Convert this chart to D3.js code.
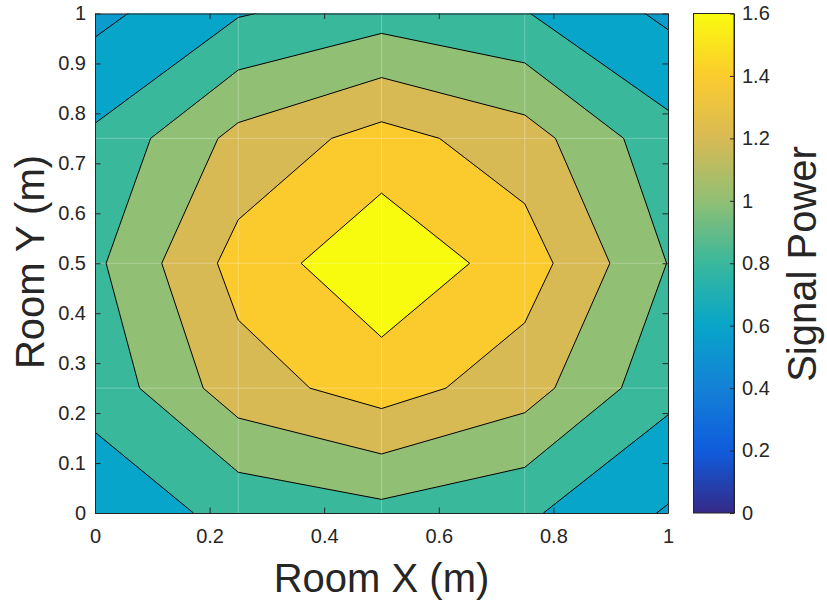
<!DOCTYPE html>
<html><head><meta charset="utf-8">
<script src="https://cdn.jsdelivr.net/npm/d3@7"></script>
<style>body{margin:0;background:#fff}svg{display:block}text{font-family:"Liberation Sans",Arial,Helvetica,sans-serif}</style>
</head><body><svg id="c" width="827" height="607"></svg>
<script>
// grid coordinates (m)
const xGrid = [0, 0.25, 0.5, 0.75, 1];
const yGrid = [0, 0.25, 0.5, 0.75, 1];
// signal power, one array per row of the grid (row y = 0 ... y = 1)
const powerY000 = [0.69, 0.85, 0.94, 0.833, 0.58];
const powerY025 = [0.86, 1.31, 1.49, 1.29, 0.86];
const powerY050 = [0.96, 1.475, 1.76, 1.50, 0.995];
const powerY075 = [0.835, 1.26, 1.475, 1.29, 0.87];
const powerY100 = [0.545, 0.785, 0.91, 0.81, 0.56];
// contour levels
const levels = [0.6, 0.8, 1.0, 1.2, 1.4, 1.6];
// tick labels
const xTicks = [0, 0.2, 0.4, 0.6, 0.8, 1];
const yTicks = [0, 0.1, 0.2, 0.3, 0.4, 0.5, 0.6, 0.7, 0.8, 0.9, 1];
const cbTicks = [0, 0.2, 0.4, 0.6, 0.8, 1, 1.2, 1.4, 1.6];
const cLimits = [0, 1.6];
// parula colormap anchors
const parulaStops = ["#352a87", "#0f5cdd", "#1481d6", "#07a5c9", "#39b89c", "#91bf74", "#d8ba55", "#fbcb2e", "#f9fb0e"];

const svg = d3.select("#c");
const W = 827, H = 607;
const axisColor = "#262626";
const L = 95, R = 668, T = 13.5, B = 513;
const x = d3.scaleLinear([0, 1], [L, R]);
const y = d3.scaleLinear([0, 1], [B, T]);
const parula = d3.scaleLinear(d3.range(parulaStops.length).map(i => i / (parulaStops.length - 1)), parulaStops).interpolate(d3.interpolateRgb).clamp(true);
const cnorm = d3.scaleLinear(cLimits, [0, 1]).clamp(true);
const color = v => parula(cnorm(v));

const rows = [powerY000, powerY025, powerY050, powerY075, powerY100];
const values = [].concat(...rows);
const nx = xGrid.length, ny = yGrid.length;
const ix = d3.scaleLinear([0, nx - 1], [xGrid[0], xGrid[nx - 1]]);
const iy = d3.scaleLinear([0, ny - 1], [yGrid[0], yGrid[ny - 1]]);
const proj = d3.geoTransform({point(px, py) { this.stream.point(x(ix(px - 0.5)), y(iy(py - 0.5))); }});
const path = d3.geoPath(proj);
const contours = d3.contours().size([nx, ny]).thresholds(levels)(values);

const defs = svg.append("defs");
defs.append("clipPath").attr("id", "plotclip").append("rect")
  .attr("x", L).attr("y", T).attr("width", R - L).attr("height", B - T);

const plot = svg.append("g").attr("clip-path", "url(#plotclip)");
// lowest band
plot.append("rect").attr("x", L).attr("y", T).attr("width", R - L).attr("height", B - T)
  .attr("fill", color(d3.min(values)));
plot.selectAll("path.fill").data(contours).join("path").attr("class", "fill")
  .attr("d", path).attr("fill", d => color(d.value)).attr("fill-rule", "evenodd").attr("stroke", "none");
// faint patch edges
const inner = xGrid.slice(1, -1);
plot.selectAll("line.gx").data(inner).join("line").attr("class", "gx")
  .attr("x1", d => x(d)).attr("x2", d => x(d)).attr("y1", T).attr("y2", B)
  .attr("stroke", "#fff").attr("stroke-opacity", 0.28).attr("stroke-width", 1);
plot.selectAll("line.gy").data(yGrid.slice(1, -1)).join("line").attr("class", "gy")
  .attr("y1", d => y(d)).attr("y2", d => y(d)).attr("x1", L).attr("x2", R)
  .attr("stroke", "#fff").attr("stroke-opacity", 0.28).attr("stroke-width", 1);
plot.selectAll("path.line").data(contours).join("path").attr("class", "line")
  .attr("d", path).attr("fill", "none").attr("stroke", "#000").attr("stroke-width", 1);

const fmt = d => String(d);
const tick = 5.5;
function styleAxis(g) {
  g.selectAll(".domain").attr("stroke", axisColor).attr("stroke-width", 1);
  g.selectAll(".tick line").attr("stroke", axisColor).attr("stroke-width", 1);
  g.selectAll(".tick text").attr("fill", axisColor).attr("font-size", 20).attr("font-family", "Liberation Sans, Arial, sans-serif");
}
svg.append("g").attr("transform", `translate(0,${B})`)
  .call(d3.axisBottom(x).tickValues(xTicks).tickFormat(fmt).tickSizeInner(-tick).tickSizeOuter(0).tickPadding(16)).call(styleAxis);
svg.append("g").attr("transform", `translate(0,${T})`)
  .call(d3.axisTop(x).tickValues(xTicks).tickFormat("").tickSizeInner(-tick).tickSizeOuter(0)).call(styleAxis);
svg.append("g").attr("transform", `translate(${L},0)`)
  .call(d3.axisLeft(y).tickValues(yTicks).tickFormat(fmt).tickSizeInner(-tick).tickSizeOuter(0).tickPadding(9)).call(styleAxis);
svg.append("g").attr("transform", `translate(${R},0)`)
  .call(d3.axisRight(y).tickValues(yTicks).tickFormat("").tickSizeInner(-tick).tickSizeOuter(0)).call(styleAxis);

// colorbar
const CL = 693.5, CR = 734;
const cy = d3.scaleLinear(cLimits, [B, T]);
const grad = defs.append("linearGradient").attr("id", "cbgrad").attr("x1", 0).attr("y1", 1).attr("x2", 0).attr("y2", 0);
d3.range(0, 1.0001, 0.02).forEach(t => grad.append("stop").attr("offset", t).attr("stop-color", parula(t)));
svg.append("rect").attr("x", CL).attr("y", T).attr("width", CR - CL).attr("height", B - T)
  .attr("fill", "url(#cbgrad)").attr("stroke", axisColor).attr("stroke-width", 1);
svg.append("g").attr("transform", `translate(${CR},0)`)
  .call(d3.axisRight(cy).tickValues(cbTicks).tickFormat(fmt).tickSizeInner(-4).tickSizeOuter(0).tickPadding(8)).call(styleAxis);

// titles
svg.append("text").attr("x", 381.5).attr("y", 592).attr("text-anchor", "middle")
  .attr("font-size", 40).attr("fill", axisColor).text("Room X (m)");
svg.append("text").attr("transform", "translate(44,262) rotate(-90)").attr("text-anchor", "middle")
  .attr("font-size", 40).attr("fill", axisColor).text("Room Y (m)");
svg.append("text").attr("transform", "translate(816,264) rotate(-90)").attr("text-anchor", "middle")
  .attr("font-size", 40).attr("fill", axisColor).text("Signal Power");
</script></body></html>
